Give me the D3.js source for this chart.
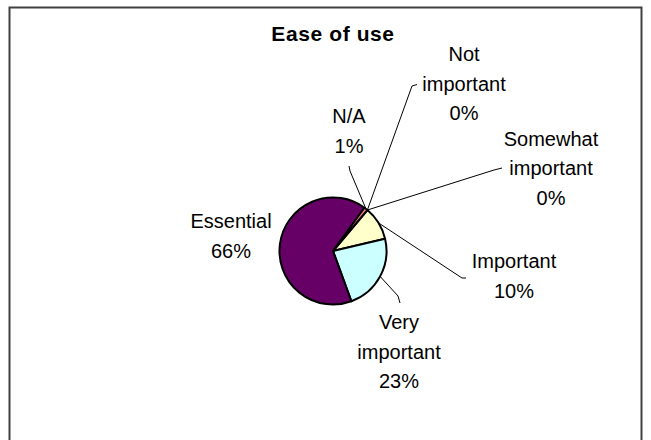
<!DOCTYPE html>
<html>
<head>
<meta charset="utf-8">
<script src="https://cdn.jsdelivr.net/npm/d3@7"></script>
<style>
  html, body { margin: 0; padding: 0; background: #fff; }
  svg { display: block; }
  text { font-family: "Liberation Sans", Arial, sans-serif; fill: #000; }
</style>
</head>
<body>
<svg id="chart" width="651" height="440"></svg>
<script>
// ---- data ----
const title = "Ease of use";
const categories = ["Not important", "Somewhat important", "Important", "Very important", "Essential", "N/A"];
const labelLines = [["Not", "important"], ["Somewhat", "important"], ["Important"], ["Very", "important"], ["Essential"], ["N/A"]];
const values = [0, 0, 10.2, 23.1, 65.6, 1.1];
const percentLabels = ["0%", "0%", "10%", "23%", "66%", "1%"];
const colors = ["#9999FF", "#993366", "#FFFFCC", "#CCFFFF", "#660066", "#FF8080"];

// ---- layout ----
const W = 651, H = 440;
const cx = 333, cy = 251, R = 53.5;
const startDeg = 40;
const lineGap = 29.5;
// label placement relative to pie centre: [x, first baseline] and leader elbow/end points
const labelLayout = [
  { x: 131, y: -190, leader: [[79, -165], [84, -166.5]] },
  { x: 218, y: -105.3, leader: [[161, -81], [169, -83]] },
  { x: 181, y: 17.3, leader: [[129, 27], [133, 27]] },
  { x: 66, y: 78.3, leader: [[65, 45], [67, 52]] },
  { x: -102, y: -22.7, leader: null },
  { x: 16, y: -127.7, leader: [[17, -80], [16, -85]] }
];

const svg = d3.select("#chart");
svg.append("rect").attr("width", W).attr("height", H).attr("fill", "#fff");

// frame
svg.append("path")
  .attr("d", `M9.5,${H + 2} V7.5 H641.5 V${H + 2}`)
  .attr("fill", "none").attr("stroke", "#404040").attr("stroke-width", 2);

// title
svg.append("text")
  .attr("x", cx).attr("y", 40.5)
  .attr("text-anchor", "middle")
  .attr("font-size", 21).attr("font-weight", "bold")
  .attr("letter-spacing", 0.6)
  .text(title);

const data = categories.map((c, i) => ({ cat: c, value: values[i], i }));
const pie = d3.pie().sort(null).value(d => d.value)
  .startAngle(startDeg * Math.PI / 180)
  .endAngle(startDeg * Math.PI / 180 + 2 * Math.PI);
const arcs = pie(data);
const arc = d3.arc().innerRadius(0).outerRadius(R);
const edge = d3.arc().innerRadius(R).outerRadius(R);

const g = svg.append("g").attr("transform", `translate(${cx},${cy})`);

g.selectAll("path.slice")
  .data(arcs.filter(a => a.data.value > 0))
  .join("path")
  .attr("class", "slice")
  .attr("d", arc)
  .attr("fill", d => colors[d.data.i])
  .attr("stroke", "#000")
  .attr("stroke-width", 2)
  .attr("stroke-linejoin", "round");

// leader lines
const line = d3.line();
arcs.forEach(a => {
  const L = labelLayout[a.data.i];
  if (!L.leader) return;
  const p0 = edge.centroid(a);
  g.append("path")
    .attr("d", line([p0, ...L.leader]))
    .attr("fill", "none")
    .attr("stroke", "#000")
    .attr("stroke-width", 1);
});

// labels
arcs.forEach(a => {
  const i = a.data.i;
  const L = labelLayout[i];
  const lines = labelLines[i].concat([percentLabels[i]]);
  const t = g.append("text")
    .attr("text-anchor", "middle")
    .attr("font-size", 20);
  lines.forEach((s, k) => {
    t.append("tspan")
      .attr("x", L.x)
      .attr("y", L.y + k * lineGap)
      .text(s);
  });
});
</script>
</body>
</html>
